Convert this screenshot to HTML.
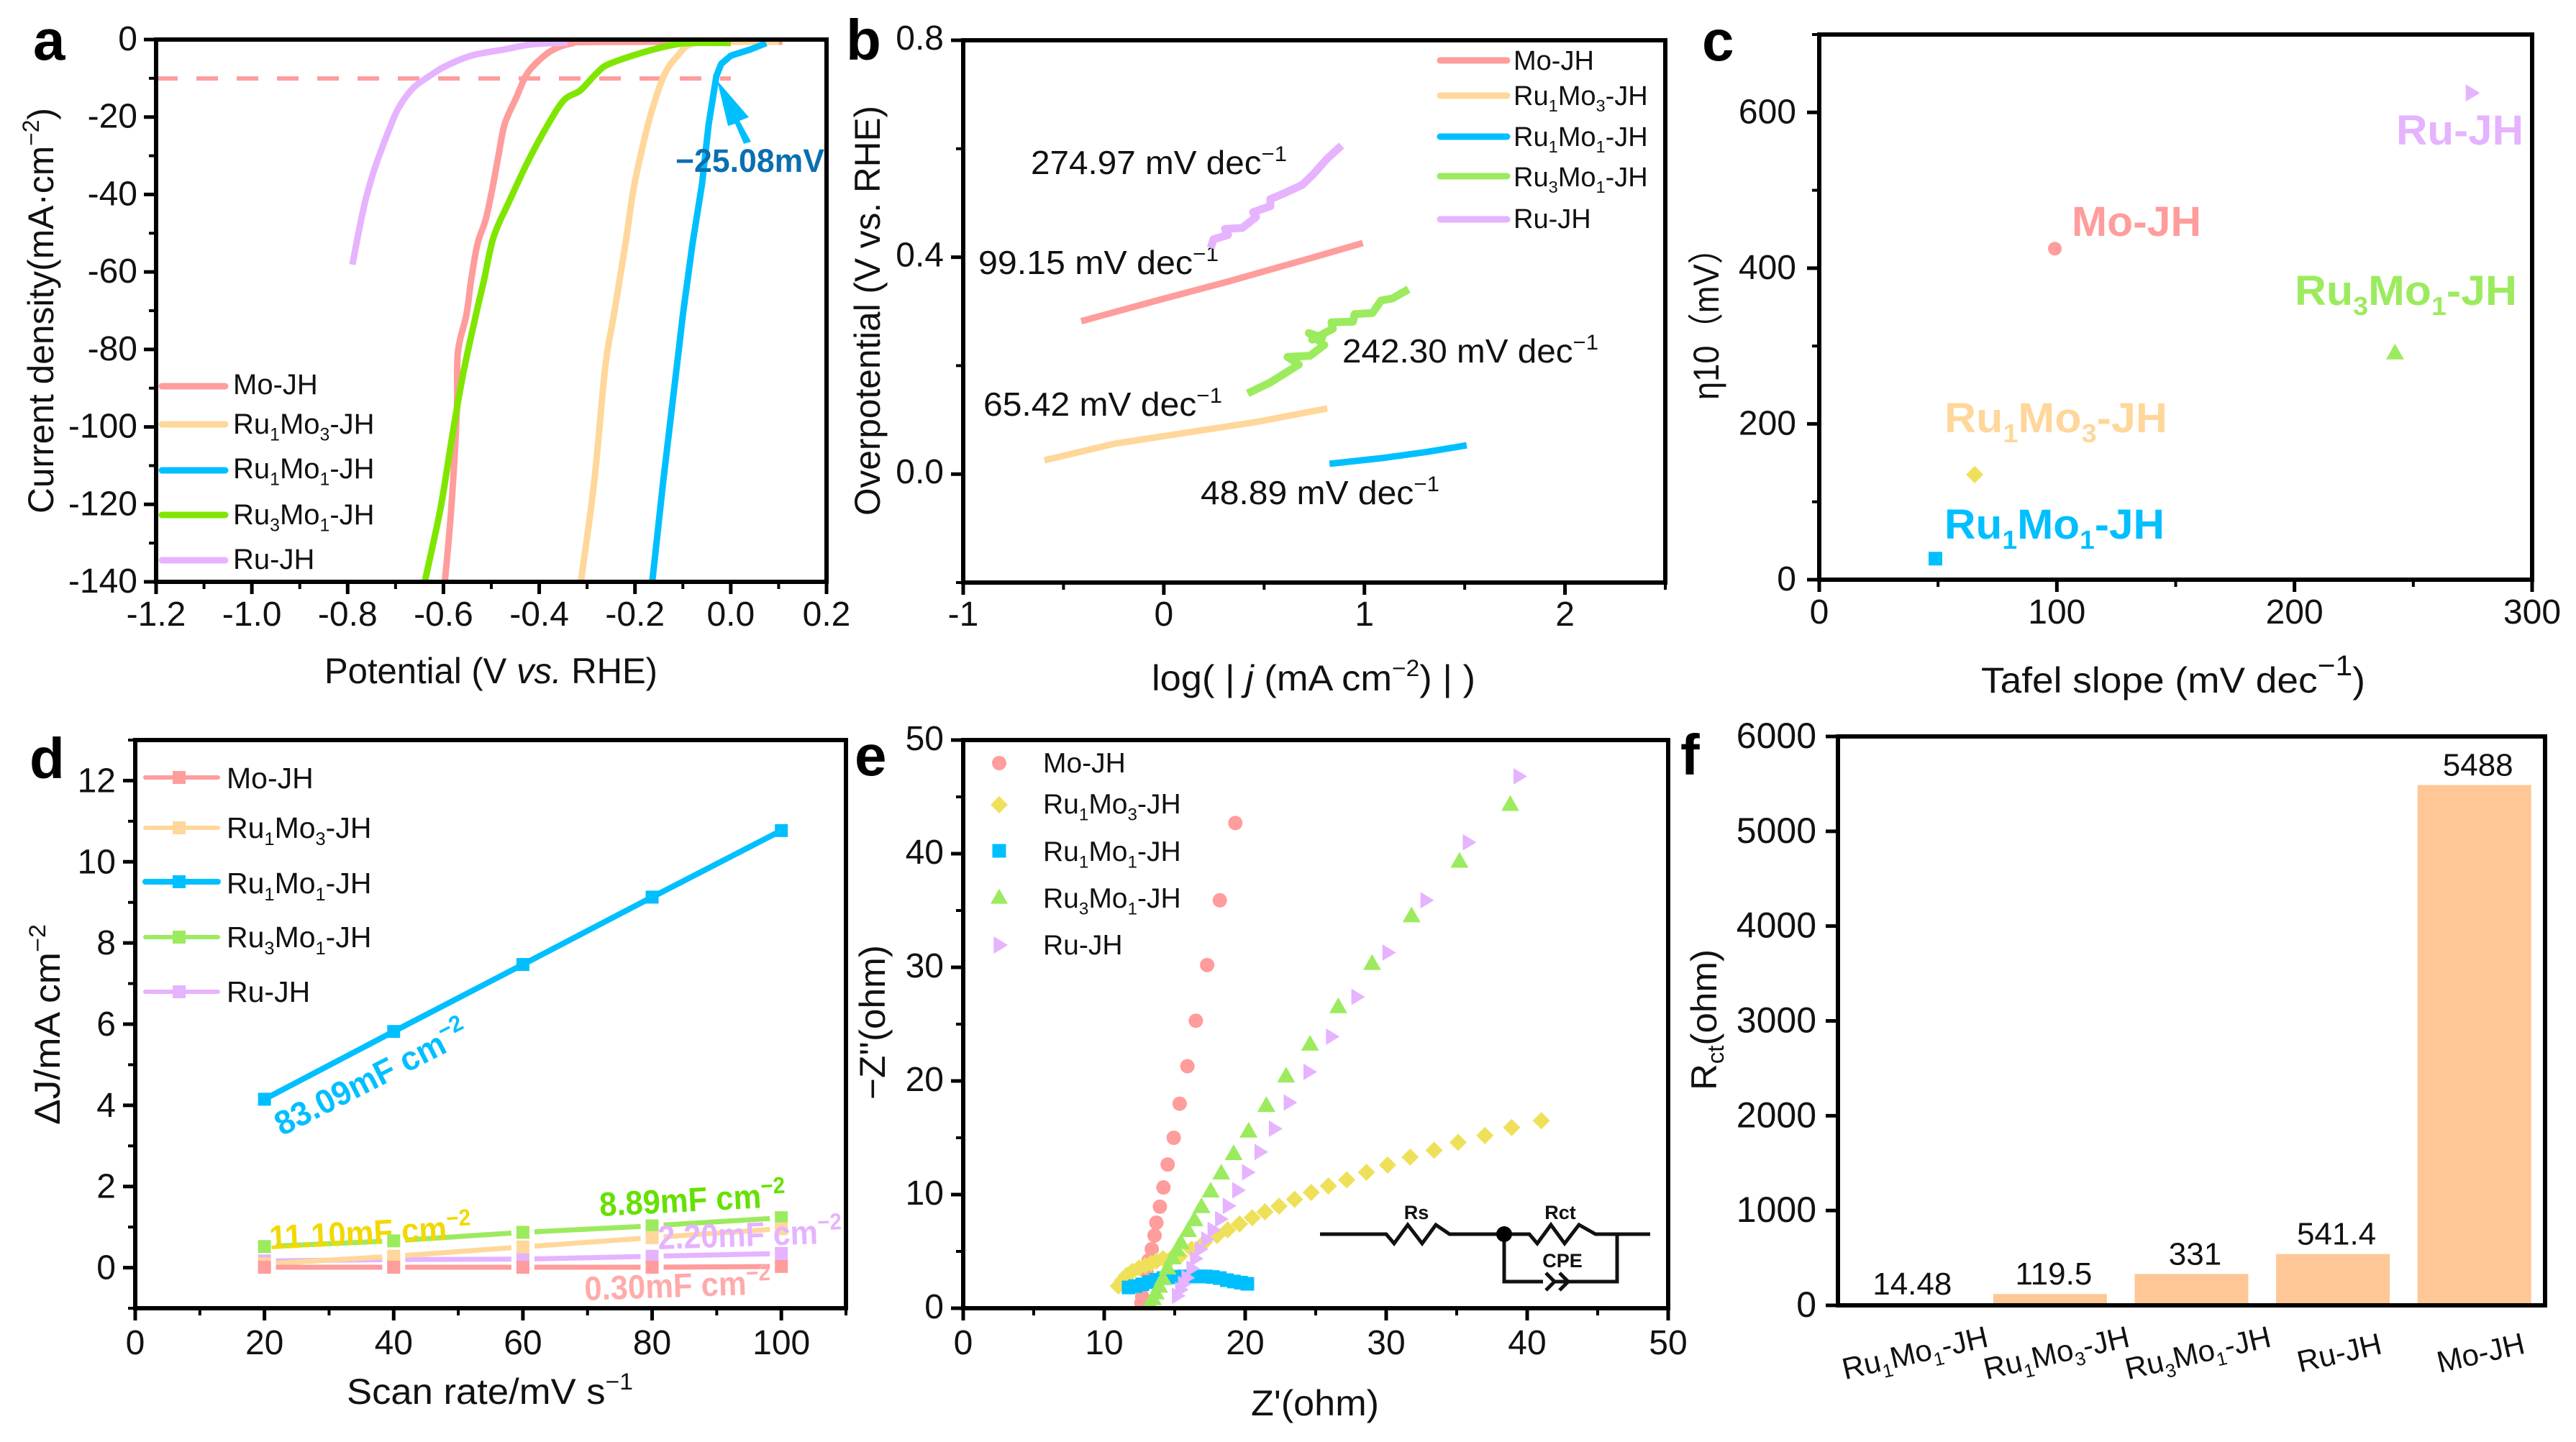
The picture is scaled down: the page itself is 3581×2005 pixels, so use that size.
<!DOCTYPE html>
<html lang="en">
<head>
<meta charset="utf-8">
<title>Electrocatalysis multi-panel figure</title>
<style>
html,body{margin:0;padding:0;background:#fff;}
svg{display:block;font-family:"Liberation Sans","Noto Sans CJK SC",sans-serif;fill:#111;}
text{fill:#111;}
.title{font-size:50px;}
.letter{font-size:80px;font-weight:bold;fill:#000;}
.note{font-size:46px;}
</style>
</head>
<body>
<svg id="figure" xmlns="http://www.w3.org/2000/svg" width="3581" height="2005" viewBox="0 0 3581 2005">
<rect x="0" y="0" width="3581" height="2005" fill="#fff"/>

<g id="panel-a">
  <text class="letter" x="46" y="83">a</text>
  <text class="title" transform="translate(74,714) rotate(-90)" textLength="564" lengthAdjust="spacingAndGlyphs">Current density(mA·cm<tspan dy="-20" font-size="32">−2</tspan><tspan dy="20">)</tspan></text>
  <text class="title" x="451" y="950" textLength="463" lengthAdjust="spacingAndGlyphs">Potential (V <tspan font-style="italic">vs.</tspan> RHE)</text>
</g>
<g id="panel-b">
  <text class="letter" x="1176" y="83">b</text>
  <text class="title" transform="translate(1223,717) rotate(-90)" textLength="570" lengthAdjust="spacingAndGlyphs">Overpotential (V vs. RHE)</text>
  <text class="title" x="1601" y="960" textLength="450" lengthAdjust="spacingAndGlyphs">log( | <tspan font-style="italic">j</tspan> (mA cm<tspan dy="-20" font-size="32">−2</tspan><tspan dy="20">) | )</tspan></text>
  <text class="note" x="1433" y="242" textLength="356" lengthAdjust="spacingAndGlyphs">274.97 mV dec<tspan dy="-18" font-size="30">−1</tspan></text>
  <text class="note" x="1360" y="381" textLength="334" lengthAdjust="spacingAndGlyphs">99.15 mV dec<tspan dy="-18" font-size="30">−1</tspan></text>
  <text class="note" x="1866" y="504" textLength="356" lengthAdjust="spacingAndGlyphs">242.30 mV dec<tspan dy="-18" font-size="30">−1</tspan></text>
  <text class="note" x="1367" y="578" textLength="332" lengthAdjust="spacingAndGlyphs">65.42 mV dec<tspan dy="-18" font-size="30">−1</tspan></text>
  <text class="note" x="1669" y="701" textLength="332" lengthAdjust="spacingAndGlyphs">48.89 mV dec<tspan dy="-18" font-size="30">−1</tspan></text>
</g>
<g id="panel-c">
  <text class="letter" x="2366" y="84">c</text>
  <text class="title" transform="translate(2389,556) rotate(-90)" textLength="234" lengthAdjust="spacingAndGlyphs">η10（mV）</text>
  <text class="title" x="2754" y="963" textLength="534" lengthAdjust="spacingAndGlyphs">Tafel slope (mV dec<tspan dy="-24" font-size="40">−1</tspan><tspan dy="24">)</tspan></text>
</g>
<g id="panel-d">
  <text class="letter" x="41" y="1082">d</text>
  <text class="title" transform="translate(83,1564) rotate(-90)" textLength="279" lengthAdjust="spacingAndGlyphs">ΔJ/mA cm<tspan dy="-20" font-size="32">−2</tspan></text>
  <text class="title" x="482" y="1952" textLength="398" lengthAdjust="spacingAndGlyphs">Scan rate/mV s<tspan dy="-20" font-size="32">−1</tspan></text>
</g>
<g id="panel-e">
  <text class="letter" x="1188" y="1078">e</text>
  <text class="title" transform="translate(1230,1529) rotate(-90)" textLength="215" lengthAdjust="spacingAndGlyphs">−Z''(ohm)</text>
  <text class="title" x="1739" y="1968" textLength="178" lengthAdjust="spacingAndGlyphs">Z'(ohm)</text>
</g>
<g id="panel-f">
  <text class="letter" x="2336" y="1077">f</text>
  <text class="title" transform="translate(2386,1516) rotate(-90)" textLength="196" lengthAdjust="spacingAndGlyphs">R<tspan dy="10" font-size="32">ct</tspan><tspan dy="-10">(ohm)</tspan></text>
</g>
<g id="circuit" fill="none" stroke="#111" stroke-width="5">
  <path d="M1835 1716H1927L1938 1729L1957 1703L1977 1729L1996 1703L2015 1716H2126L2137 1729L2156 1703L2175 1729L2195 1703L2218 1716H2294"/>
  <path d="M2091 1716V1782H2145M2160 1782H2248V1716"/>
  <path d="M2149 1770L2161 1782L2149 1794M2168 1770L2180 1782L2168 1794"/>
  <circle cx="2091" cy="1716" r="11" fill="#000" stroke="none"/>
  <text x="1969" y="1695" font-size="27" font-weight="bold" text-anchor="middle" stroke="none">Rs</text>
  <text x="2169" y="1695" font-size="27" font-weight="bold" text-anchor="middle" stroke="none">Rct</text>
  <text x="2172" y="1762" font-size="27" font-weight="bold" text-anchor="middle" stroke="none">CPE</text>
</g>
</svg>

<script>
/* ---------- panel a: LSV curves ---------- */
const lsvMoX=[-0.597,-0.583,-0.572,-0.570,-0.552,-0.542,-0.529,-0.512,-0.499,-0.485,-0.472,-0.448,-0.428,-0.408,-0.375,-0.334,-0.274,0.108];
const lsvMoY=[-140,-120,-96,-81,-71,-62,-52.8,-46.6,-39.2,-29.9,-21.8,-15,-9.4,-6.3,-2.9,-1.05,-0.6,-0.56];
const lsvRu1Mo3X=[-0.313,-0.285,-0.262,-0.244,-0.22,-0.204,-0.187,-0.167,-0.14,-0.113,-0.08,0.0,0.1];
const lsvRu1Mo3Y=[-140,-114,-84.5,-71,-52.8,-39.2,-29.2,-19.3,-9.4,-4.5,-1.05,-0.6,-0.56];
const lsvRu1Mo1X=[-0.164,-0.141,-0.107,-0.10,-0.08,-0.06,-0.046,-0.03,-0.02,0,0.04,0.074];
const lsvRu1Mo1Y=[-140,-114,-78.5,-71,-52.8,-37.3,-21.8,-9.4,-6.3,-4.15,-2.6,-0.93];
const lsvRu3Mo1X=[-0.639,-0.606,-0.583,-0.56,-0.532,-0.515,-0.495,-0.462,-0.422,-0.381,-0.348,-0.314,-0.281,-0.254,-0.18,-0.12,-0.08,0.0];
const lsvRu3Mo1Y=[-140,-121,-103.5,-87,-71,-62,-50.9,-41.6,-31.1,-21.8,-15.6,-13.1,-8.8,-6.3,-3.2,-1.36,-0.87,-0.87];
const lsvRuX=[-0.79,-0.777,-0.763,-0.746,-0.73,-0.713,-0.693,-0.663,-0.629,-0.596,-0.542,-0.475,-0.415,-0.341];
const lsvRuY=[-58.1,-49.7,-41.6,-34.2,-28.6,-23.1,-17.5,-12.5,-9.4,-6.9,-4.15,-2.6,-1.24,-0.74];
const lsvRefX=[-1.2,0];
const lsvRefY=[-10.05,-10.05];
const lsvXTicks=[-1.2,-1.0,-0.8,-0.6,-0.4,-0.2,0,0.2];
const lsvXTickLabels=['-1.2','-1.0','-0.8','-0.6','-0.4','-0.2','0.0','0.2'];
const lsvXMinor=[-1.1,-0.9,-0.7,-0.5,-0.3,-0.1,0.1];
const lsvYTicks=[0,-20,-40,-60,-80,-100,-120,-140];
const lsvYTickLabels=['0','-20','-40','-60','-80','-100','-120','-140'];
const lsvYMinor=[-10,-30,-50,-70,-90,-110,-130];

/* ---------- panel b: Tafel plots ---------- */
const tafelMoX=[-0.412,-0.035,0.32,0.7,0.992];
const tafelMoY=[0.282,0.32,0.355,0.395,0.426];
const tafelRu1Mo3X=[-0.595,-0.247,0.104,0.459,0.815];
const tafelRu1Mo3Y=[0.0255,0.056,0.076,0.096,0.121];
const tafelRu1Mo1X=[0.826,1.098,1.313,1.51];
const tafelRu1Mo1Y=[0.019,0.03,0.041,0.053];
const tafelRu3Mo1X=[0.418,0.531,0.673,0.617,0.728,0.8,0.723,0.79,0.74,0.843,0.836,0.943,0.951,1.04,1.083,1.14,1.22];
const tafelRu3Mo1Y=[0.149,0.169,0.202,0.216,0.218,0.238,0.26,0.252,0.248,0.268,0.28,0.281,0.295,0.297,0.32,0.324,0.341];
const tafelRuX=[0.234,0.248,0.32,0.305,0.391,0.46,0.445,0.531,0.531,0.589,0.689,0.743,0.815,0.886];
const tafelRuY=[0.417,0.433,0.441,0.452,0.454,0.474,0.483,0.494,0.507,0.516,0.533,0.552,0.582,0.606];
const tafelXTicks=[-1,0,1,2];
const tafelXTickLabels=['-1','0','1','2'];
const tafelXMinor=[-0.5,0.5,1.5,2.5];
const tafelYTicks=[0,0.4,0.8];
const tafelYTickLabels=['0.0','0.4','0.8'];
const tafelYMinor=[-0.2,0.2,0.6];

/* ---------- panel c: overpotential vs Tafel slope ---------- */
const scatterNames=['Mo-JH','Ru1Mo3-JH','Ru1Mo1-JH','Ru3Mo1-JH','Ru-JH'];
const scatterSlope=[99.15,65.42,48.89,242.3,274.97];
const scatterEta=[425,135,27,292,625];
const scatterXTicks=[0,100,200,300];
const scatterXMinor=[50,150,250];
const scatterYTicks=[0,200,400,600];
const scatterYMinor=[100,300,500,700];

/* ---------- panel d: capacitance current ---------- */
const scanRates=[20,40,60,80,100];
const capMo=[0.01,0.01,0.01,0.01,0.03];
const capRu1Mo3=[0.09,0.28,0.51,0.74,0.96];
const capRu1Mo1=[4.15,5.82,7.47,9.13,10.77];
const capRu3Mo1=[0.52,0.66,0.87,1.03,1.23];
const capRu=[0.165,0.2,0.21,0.28,0.35];
const capXTicks=[0,20,40,60,80,100];
const capXMinor=[10,30,50,70,90,110];
const capYTicks=[0,2,4,6,8,10,12];
const capYMinor=[-1,1,3,5,7,9,11,13];

/* ---------- panel e: Nyquist plot ---------- */
const nyqMoX=[19.3,18.2,17.3,16.5,15.9,15.35,14.93,14.5,14.2,13.95,13.7,13.57,13.37,13.14,13,12.85,12.7,12.64];
const nyqMoY=[42.7,35.9,30.2,25.3,21.3,18,15,12.65,10.63,8.94,7.53,6.4,5.2,4.2,3.2,2.1,1,0.46];
const nyqRu1Mo3X=[41,38.9,37,35.1,33.4,31.7,30.1,28.6,27.2,25.9,24.68,23.5,22.4,21.4,20.5,19.6,18.76,18,17.1,16.2,15.36,14.8,14.17,13.7,13.3,12.9,12.46,12,11.6,11.3,11.0];
const nyqRu1Mo3Y=[16.5,15.9,15.2,14.6,13.9,13.3,12.6,11.96,11.3,10.76,10.19,9.58,8.98,8.48,7.97,7.42,6.9,6.4,5.8,5.2,4.58,4.45,4.37,4.15,3.94,3.75,3.54,3.25,2.9,2.45,1.96];
const nyqRu1Mo1X=[11.73,12.2,12.7,13.2,13.7,14.2,14.7,15.2,15.7,16.2,16.7,17.2,17.7,18.2,18.7,19.2,19.7,20.15];
const nyqRu1Mo1Y=[1.83,1.95,2.1,2.3,2.5,2.65,2.72,2.78,2.8,2.8,2.8,2.8,2.75,2.65,2.47,2.35,2.25,2.15];
const nyqRu3Mo1X=[38.8,35.2,31.8,29,26.6,24.6,22.9,21.5,20.24,19.18,18.3,17.55,16.9,16.4,15.95,15.44,15.15,14.85,14.5,14.17,13.9,13.66,13.45,13.23];
const nyqRu3Mo1Y=[44.4,39.4,34.6,30.4,26.6,23.3,20.5,17.9,15.65,13.67,11.96,10.38,9,7.85,6.9,5.84,5.2,4.5,3.6,2.68,2,1.41,0.9,0.46];
const nyqRuX=[39.5,35.9,32.9,30.2,28,26.2,24.6,23.2,22.15,21.13,20.24,19.55,18.88,18.33,17.8,17.35,16.9,16.55,16.3,15.95,15.7,15.5,15.27];
const nyqRuY=[46.8,41,35.9,31.3,27.4,23.9,20.8,18.1,15.8,13.75,11.96,10.38,9,7.85,6.9,6.05,5.2,4.37,3.5,2.68,2.15,1.63,1.09];
const nyqTicks=[0,10,20,30,40,50];
const nyqMinor=[5,15,25,35,45];

/* ---------- panel f: Rct bars ---------- */
const rctCategories=['Ru1Mo1-JH','Ru1Mo3-JH','Ru3Mo1-JH','Ru-JH','Mo-JH'];
const rctValues=[14.48,119.5,331,541.4,5488];
const rctYTicks=[0,1000,2000,3000,4000,5000,6000];

/* ---------- helpers ---------- */
const NS='http://www.w3.org/2000/svg';
const PINK='#FF9C9C',TAN='#FFD79B',BLUE='#00BFFF',LIME='#80E600',SOFTGREEN='#9CEB5F',VIOLET='#E6B3FF',YELLOW='#EFE05A',BAR='#FEC795';

function mk(parent,tag,attrs,txt){
  const el=document.createElementNS(NS,tag);
  for(const k in attrs){el.setAttribute(k,attrs[k]);}
  if(txt!==undefined){el.textContent=txt;}
  parent.appendChild(el);
  return el;
}
function axisScale(d0,d1,p0,p1){return function(v){return p0+(v-d0)/(d1-d0)*(p1-p0);};}
function richName(el,name,size){
  let prevNum=false;
  name.split(/(\d)/).forEach(function(p){
    if(!p){return;}
    const isNum=/^\d$/.test(p);
    const shift=isNum?size*0.24:(prevNum?-size*0.24:0);
    mk(el,'tspan',{'font-size':isNum?size*0.62:size,dy:shift},p);
    prevNum=isNum;
  });
}
function drawAxes(g,box,sx,sy,spec){
  const frame=mk(g,'rect',{x:box.x0,y:box.y0,width:box.x1-box.x0,height:box.y1-box.y0,fill:'none',stroke:'#000','stroke-width':6});
  
  
  (spec.xTicks||[]).forEach(function(v,i){
    const t=mk(g,'line',{x1:sx(v),x2:sx(v),y1:box.y1,y2:box.y1+17,stroke:'#000','stroke-width':5});
    
    
    const l=mk(g,'text',{x:sx(v),y:spec.xLabelY,'text-anchor':'middle','font-size':spec.font||48},spec.xLabels?spec.xLabels[i]:String(v));
    
    
  });
  (spec.xMinor||[]).forEach(function(v){
    const t=mk(g,'line',{x1:sx(v),x2:sx(v),y1:box.y1,y2:box.y1+10,stroke:'#000','stroke-width':4});
    
    
  });
  (spec.yTicks||[]).forEach(function(v,i){
    const t=mk(g,'line',{x1:box.x0-17,x2:box.x0,y1:sy(v),y2:sy(v),stroke:'#000','stroke-width':5});
    
    
    const l=mk(g,'text',{x:spec.yLabelX,y:sy(v)+(spec.yShift||15),'text-anchor':'end','font-size':spec.font||48},spec.yLabels?spec.yLabels[i]:String(v));
    
    
  });
  (spec.yMinor||[]).forEach(function(v){
    const t=mk(g,'line',{x1:box.x0-10,x2:box.x0,y1:sy(v),y2:sy(v),stroke:'#000','stroke-width':4});
    
    
  });
}
function seriesPath(xs,ys,sx,sy){
  return xs.map(function(x,i){return (i?'L':'M')+sx(x).toFixed(1)+' '+sy(ys[i]).toFixed(1);}).join('');
}
function smoothPath(xs,ys,sx,sy){
  const px=xs.map(sx),py=ys.map(sy);
  let d='M'+px[0].toFixed(1)+' '+py[0].toFixed(1);
  for(let i=0;i<px.length-1;i++){
    const a=Math.max(i-1,0),b=Math.min(i+2,px.length-1);
    d+='C'+(px[i]+(px[i+1]-px[a])/6).toFixed(1)+' '+(py[i]+(py[i+1]-py[a])/6).toFixed(1)+' '
      +(px[i+1]-(px[b]-px[i])/6).toFixed(1)+' '+(py[i+1]-(py[b]-py[i])/6).toFixed(1)+' '
      +px[i+1].toFixed(1)+' '+py[i+1].toFixed(1);
  }
  return d;
}
function gappedPath(xs,ys,sx,sy,gap){
  let d='';
  for(let i=0;i<xs.length-1;i++){
    const ax=sx(xs[i]),ay=sy(ys[i]),bx=sx(xs[i+1]),by=sy(ys[i+1]);
    const len=Math.hypot(bx-ax,by-ay)||1;
    const ux=(bx-ax)/len,uy=(by-ay)/len;
    d+='M'+(ax+ux*gap).toFixed(1)+' '+(ay+uy*gap).toFixed(1)+'L'+(bx-ux*gap).toFixed(1)+' '+(by-uy*gap).toFixed(1);
  }
  return d;
}
function drawPath(g,d,color,width,name){
  const p=mk(g,'path',{d:d,fill:'none',stroke:color,'stroke-width':width,'stroke-linejoin':'round'});
  
  
  return p;
}
function drawMarker(g,shape,cx,cy,size,color,name){
  const r=size/2;
  let el;
  if(shape==='circle'){el=mk(g,'circle',{cx:cx,cy:cy,r:r,fill:color});}
  else if(shape==='square'){el=mk(g,'rect',{x:cx-r,y:cy-r,width:size,height:size,fill:color});}
  else if(shape==='diamond'){el=mk(g,'polygon',{points:[cx,cy-r,cx+r,cy,cx,cy+r,cx-r,cy].join(','),fill:color});}
  else if(shape==='up'){el=mk(g,'polygon',{points:[cx,cy-r*0.95,cx+r,cy+r*0.8,cx-r,cy+r*0.8].join(','),fill:color});}
  else{el=mk(g,'polygon',{points:[cx-r*0.8,cy-r,cx+r*0.85,cy,cx-r*0.8,cy+r].join(','),fill:color});}
  
  
  return el;
}
function legendEntry(g,o){
  if(o.x1){
    const ln=mk(g,'line',{x1:o.x0,x2:o.x1,y1:o.y,y2:o.y,stroke:o.color,'stroke-width':o.w||9,'stroke-linecap':'round'});
    
    
  }
  if(o.shape){
    drawMarker(g,o.shape,o.mx,o.y,o.ms,o.color,'legend-marker');
  }
  const t=mk(g,'text',{x:o.tx,y:o.ty,'font-size':o.size});
  richName(t,o.name,o.size);
  
  
}
function colorLabel(g,name,x,y,color,width){
  const t=mk(g,'text',{x:x,y:y,'font-size':58,'font-weight':'bold',textLength:width,lengthAdjust:'spacingAndGlyphs'});
  richName(t,name,58);
  t.querySelectorAll('tspan').forEach(function(s){s.style.fill=color;});
  t.style.fill=color;
  
  
}
function capNote(g,txt,x,y,color,width,angle,sup){
  const t=mk(g,'text',{transform:'translate('+x+','+y+') rotate('+angle+')','font-size':47,'font-weight':'bold',textLength:width,lengthAdjust:'spacingAndGlyphs'});
  t.style.fill=color;
  const a=mk(t,'tspan',{},txt);
  a.style.fill=color;
  const b=mk(t,'tspan',{dy:-19,'font-size':32},sup);
  b.style.fill=color;
  
  
}

/* ---------- panel a ---------- */
(function(){
  const g=document.getElementById('panel-a');
  const box={x0:217,x1:1149,y0:55,y1:809};
  const sx=axisScale(-1.2,0.2,box.x0,box.x1),sy=axisScale(0,-140,box.y0,box.y1);
  drawPath(g,seriesPath(lsvRefX,lsvRefY,sx,sy),PINK,6,'reference-line-10ma').setAttribute('stroke-dasharray','30 26');
  drawPath(g,smoothPath(lsvMoX,lsvMoY,sx,sy),PINK,9,'lsv-line-mo');
  drawPath(g,smoothPath(lsvRu1Mo3X,lsvRu1Mo3Y,sx,sy),TAN,9,'lsv-line-ru1mo3');
  drawPath(g,seriesPath(lsvRu1Mo1X,lsvRu1Mo1Y,sx,sy),BLUE,9,'lsv-line-ru1mo1');
  drawPath(g,smoothPath(lsvRu3Mo1X,lsvRu3Mo1Y,sx,sy),LIME,9,'lsv-line-ru3mo1');
  drawPath(g,smoothPath(lsvRuX,lsvRuY,sx,sy),VIOLET,9,'lsv-line-ru');
  drawAxes(g,box,sx,sy,{xTicks:lsvXTicks,xLabels:lsvXTickLabels,xMinor:lsvXMinor,yTicks:lsvYTicks,yLabels:lsvYTickLabels,yMinor:lsvYMinor,xLabelY:870,yLabelX:191,yShift:15});
  legendEntry(g,{x0:225,x1:313,y:537,color:PINK,tx:324,ty:548,size:40,name:'Mo-JH'});
  legendEntry(g,{x0:225,x1:313,y:590,color:TAN,tx:324,ty:603,size:40,name:'Ru1Mo3-JH'});
  legendEntry(g,{x0:225,x1:313,y:654,color:BLUE,tx:324,ty:665,size:40,name:'Ru1Mo1-JH'});
  legendEntry(g,{x0:225,x1:313,y:716,color:LIME,tx:324,ty:729,size:40,name:'Ru3Mo1-JH'});
  legendEntry(g,{x0:225,x1:313,y:779,color:VIOLET,tx:324,ty:791,size:40,name:'Ru-JH'});
  const arrow=mk(g,'polygon',{points:'997,112 1041,163 1028,168 1044,197 1034,200 1022,172 1012,175',fill:'#00BFFF'});
  
  
  const note=mk(g,'text',{x:939,y:239,'font-size':45,'font-weight':'bold',textLength:207,lengthAdjust:'spacingAndGlyphs'},'−25.08mV');
  note.style.fill='#0A6FB0';
  
  
})();

/* ---------- panel b ---------- */
(function(){
  const g=document.getElementById('panel-b');
  const box={x0:1339,x1:2315,y0:56,y1:810};
  const sx=axisScale(-1,2.5,box.x0,box.x1),sy=axisScale(-0.2,0.8,box.y1,box.y0);
  drawPath(g,seriesPath(tafelMoX,tafelMoY,sx,sy),PINK,9,'tafel-line-mo');
  drawPath(g,seriesPath(tafelRu1Mo3X,tafelRu1Mo3Y,sx,sy),TAN,9,'tafel-line-ru1mo3');
  drawPath(g,seriesPath(tafelRu1Mo1X,tafelRu1Mo1Y,sx,sy),BLUE,9,'tafel-line-ru1mo1');
  drawPath(g,seriesPath(tafelRu3Mo1X,tafelRu3Mo1Y,sx,sy),SOFTGREEN,11,'tafel-line-ru3mo1');
  drawPath(g,seriesPath(tafelRuX,tafelRuY,sx,sy),VIOLET,11,'tafel-line-ru');
  drawAxes(g,box,sx,sy,{xTicks:tafelXTicks,xLabels:tafelXTickLabels,xMinor:tafelXMinor,yTicks:tafelYTicks,yLabels:tafelYTickLabels,yMinor:tafelYMinor,xLabelY:870,yLabelX:1312,yShift:13});
  legendEntry(g,{x0:2002,x1:2095,y:84,color:PINK,tx:2104,ty:97,size:38,name:'Mo-JH'});
  legendEntry(g,{x0:2002,x1:2095,y:133,color:TAN,tx:2104,ty:146,size:38,name:'Ru1Mo3-JH'});
  legendEntry(g,{x0:2002,x1:2095,y:190,color:BLUE,tx:2104,ty:203,size:38,name:'Ru1Mo1-JH'});
  legendEntry(g,{x0:2002,x1:2095,y:245,color:SOFTGREEN,tx:2104,ty:259,size:38,name:'Ru3Mo1-JH'});
  legendEntry(g,{x0:2002,x1:2095,y:305,color:VIOLET,tx:2104,ty:317,size:38,name:'Ru-JH'});
})();

/* ---------- panel c ---------- */
(function(){
  const g=document.getElementById('panel-c');
  const box={x0:2529,x1:3520,y0:48,y1:806};
  const sx=axisScale(0,300,box.x0,box.x1),sy=axisScale(0,700,box.y1,box.y0);
  drawAxes(g,box,sx,sy,{xTicks:scatterXTicks,xMinor:scatterXMinor,yTicks:scatterYTicks,yMinor:scatterYMinor,xLabelY:867,yLabelX:2497,yShift:15});
  const shapes=['circle','diamond','square','up','right'];
  const sizes=[19,24,19,25,24];
  const fills=[PINK,YELLOW,BLUE,SOFTGREEN,VIOLET];
  scatterNames.forEach(function(n,i){
    const m=drawMarker(g,shapes[i],sx(scatterSlope[i]),sy(scatterEta[i]),sizes[i],fills[i],'scatter-point');
    m.setAttribute('aria-label',n);
  });
  colorLabel(g,'Mo-JH',2880,328,PINK,180);
  colorLabel(g,'Ru-JH',3331,201,VIOLET,177);
  colorLabel(g,'Ru3Mo1-JH',3190,424,SOFTGREEN,309);
  colorLabel(g,'Ru1Mo3-JH',2703,601,TAN,310);
  colorLabel(g,'Ru1Mo1-JH',2703,749,BLUE,306);
})();

/* ---------- panel d ---------- */
(function(){
  const g=document.getElementById('panel-d');
  const box={x0:188,x1:1176,y0:1029,y1:1819};
  const sx=axisScale(0,110,box.x0,box.x1),sy=axisScale(-1,13,box.y1,box.y0);
  const rows=[[capRu1Mo1,BLUE,8,0,'ru1mo1'],[capRu3Mo1,SOFTGREEN,7,16,'ru3mo1'],[capRu,VIOLET,7,16,'ru'],[capRu1Mo3,TAN,7,16,'ru1mo3'],[capMo,PINK,7,16,'mo']];
  rows.forEach(function(r){
    drawPath(g,r[3]?gappedPath(scanRates,r[0],sx,sy,r[3]):seriesPath(scanRates,r[0],sx,sy),r[1],r[2],'capacitance-line-'+r[4]);
    scanRates.forEach(function(x,i){
      drawMarker(g,'square',sx(x),sy(r[0][i]),18,r[1],'capacitance-point-'+r[4]);
    });
  });
  drawAxes(g,box,sx,sy,{xTicks:capXTicks,xMinor:capXMinor,yTicks:capYTicks,yMinor:capYMinor,xLabelY:1883,yLabelX:161,yShift:16});
  legendEntry(g,{x0:202,x1:303,y:1081,w:6,color:PINK,shape:'square',mx:249,ms:18,tx:315,ty:1096,size:41,name:'Mo-JH'});
  legendEntry(g,{x0:202,x1:303,y:1151,w:6,color:TAN,shape:'square',mx:249,ms:18,tx:315,ty:1165,size:41,name:'Ru1Mo3-JH'});
  legendEntry(g,{x0:202,x1:303,y:1226,w:8,color:BLUE,shape:'square',mx:249,ms:18,tx:315,ty:1242,size:41,name:'Ru1Mo1-JH'});
  legendEntry(g,{x0:202,x1:303,y:1303,w:6,color:SOFTGREEN,shape:'square',mx:249,ms:18,tx:315,ty:1317,size:41,name:'Ru3Mo1-JH'});
  legendEntry(g,{x0:202,x1:303,y:1379,w:6,color:VIOLET,shape:'square',mx:249,ms:18,tx:315,ty:1393,size:41,name:'Ru-JH'});
  capNote(g,'83.09mF cm',392,1580,BLUE,295,-27,'−2');
  capNote(g,'11.10mF cm',375,1737,'#F2D800',281,-3,'−2');
  capNote(g,'8.89mF cm',834,1691,'#66E000',259,-3,'−2');
  capNote(g,'2.20mF cm',915,1737,VIOLET,256,-2,'−2');
  capNote(g,'0.30mF cm',813,1808,'#FFABAB',259,-2,'−2');
})();

/* ---------- panel e ---------- */
(function(){
  const g=document.getElementById('panel-e');
  const box={x0:1339,x1:2319,y0:1029,y1:1819};
  const sx=axisScale(0,50,box.x0,box.x1),sy=axisScale(0,50,box.y1,box.y0);
  const rows=[[nyqMoX,nyqMoY,'circle',20,PINK,'mo'],[nyqRu1Mo3X,nyqRu1Mo3Y,'diamond',24,YELLOW,'ru1mo3'],[nyqRu1Mo1X,nyqRu1Mo1Y,'square',19,BLUE,'ru1mo1'],[nyqRu3Mo1X,nyqRu3Mo1Y,'up',25,SOFTGREEN,'ru3mo1'],[nyqRuX,nyqRuY,'right',23,VIOLET,'ru']];
  rows.forEach(function(r){
    r[0].forEach(function(x,i){
      drawMarker(g,r[2],sx(x),sy(r[1][i]),r[3],r[4],'nyquist-point-'+r[5]);
    });
  });
  drawAxes(g,box,sx,sy,{xTicks:nyqTicks,xMinor:nyqMinor,yTicks:nyqTicks,yMinor:nyqMinor,xLabelY:1883,yLabelX:1312,yShift:14});
  legendEntry(g,{color:PINK,shape:'circle',mx:1389,ms:20,y:1061,tx:1450,ty:1074,size:39,name:'Mo-JH'});
  legendEntry(g,{color:YELLOW,shape:'diamond',mx:1389,ms:24,y:1119,tx:1450,ty:1131,size:39,name:'Ru1Mo3-JH'});
  legendEntry(g,{color:BLUE,shape:'square',mx:1389,ms:19,y:1183,tx:1450,ty:1197,size:39,name:'Ru1Mo1-JH'});
  legendEntry(g,{color:SOFTGREEN,shape:'up',mx:1389,ms:24,y:1247,tx:1450,ty:1262,size:39,name:'Ru3Mo1-JH'});
  legendEntry(g,{color:VIOLET,shape:'right',mx:1391,ms:24,y:1314,tx:1450,ty:1327,size:39,name:'Ru-JH'});
})();

/* ---------- panel f ---------- */
(function(){
  const g=document.getElementById('panel-f');
  const box={x0:2555,x1:3538,y0:1024,y1:1815};
  const sy=axisScale(0,6000,box.y1,box.y0);
  const band=(box.x1-box.x0)/rctCategories.length;
  const sx=function(i){return box.x0+(i+0.5)*band;};
  rctValues.forEach(function(v,i){
    const b=mk(g,'rect',{x:sx(i)-79,y:sy(v),width:158,height:box.y1-sy(v),fill:BAR});
    
    
    const l=mk(g,'text',{x:sx(i)+5,y:sy(v)-13,'text-anchor':'middle','font-size':44},String(v));
    
    
    const c=mk(g,'text',{transform:'translate('+(sx(i)+12)+',1895) rotate(-13)','text-anchor':'middle','font-size':42});
    richName(c,rctCategories[i],42);
    
    
  });
  drawAxes(g,box,function(v){return v;},sy,{yTicks:rctYTicks,yLabelX:2525,yShift:16,font:50});
})();
</script>
</body>
</html>
